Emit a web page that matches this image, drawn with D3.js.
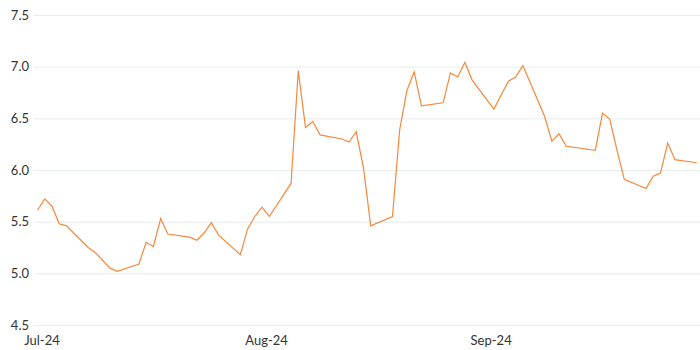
<!DOCTYPE html>
<html>
<head>
<meta charset="utf-8">
<script src="https://cdn.jsdelivr.net/npm/d3@7"></script>
<style>
    html, body { margin: 0; padding: 0; background: #fff; }
    svg { display: block; }
</style>
</head>
<body>
<svg id="chart" width="700" height="350"></svg>
<script>

// Data
const dates = [
    "2024-07-01", "2024-07-02", "2024-07-03", "2024-07-04", "2024-07-05",
    "2024-07-08", "2024-07-09", "2024-07-11", "2024-07-12",
    "2024-07-15", "2024-07-16", "2024-07-17", "2024-07-18", "2024-07-19",
    "2024-07-22", "2024-07-23", "2024-07-24", "2024-07-25", "2024-07-26",
    "2024-07-29", "2024-07-30", "2024-07-31", "2024-08-01", "2024-08-02",
    "2024-08-05", "2024-08-06", "2024-08-07", "2024-08-08", "2024-08-09",
    "2024-08-12", "2024-08-13", "2024-08-14", "2024-08-15", "2024-08-16",
    "2024-08-19", "2024-08-20", "2024-08-21", "2024-08-22", "2024-08-23",
    "2024-08-26", "2024-08-27", "2024-08-28", "2024-08-29", "2024-08-30",
    "2024-09-02", "2024-09-04", "2024-09-05", "2024-09-06",
    "2024-09-09", "2024-09-10", "2024-09-11", "2024-09-12",
    "2024-09-16", "2024-09-17", "2024-09-18", "2024-09-19", "2024-09-20",
    "2024-09-23", "2024-09-24", "2024-09-25", "2024-09-26", "2024-09-27",
    "2024-09-30"
];
const values = [
    5.61, 5.72, 5.65, 5.48, 5.46,
    5.25, 5.20, 5.05, 5.02,
    5.09, 5.30, 5.26, 5.53, 5.38,
    5.35, 5.32, 5.39, 5.49, 5.37,
    5.18, 5.43, 5.55, 5.64, 5.55,
    5.87, 6.96, 6.41, 6.47, 6.34,
    6.30, 6.27, 6.37, 6.02, 5.46,
    5.55, 6.39, 6.77, 6.95, 6.62,
    6.65, 6.94, 6.90, 7.04, 6.87,
    6.59, 6.86, 6.90, 7.01,
    6.52, 6.28, 6.35, 6.23,
    6.19, 6.55, 6.49, 6.19, 5.91,
    5.82, 5.94, 5.97, 6.26, 6.10,
    6.07
];
const yTicks = [4.5, 5.0, 5.5, 6.0, 6.5, 7.0, 7.5];
const xTicks = ["2024-07-01", "2024-08-01", "2024-09-01"];

// Configs
const configs = {
    width: 700,
    height: 350,
    margin: { top: 15, right: 3, bottom: 25, left: 34 },
    lineColor: "#f5883c",
    gridColor: "#e7ecec",
    textColor: "#333333",
    font: "Lato, 'Open Sans', sans-serif"
};

const parse = d3.timeParse("%Y-%m-%d");
const series = dates.map((d, i) => ({ date: parse(d), value: values[i] }));

const svg = d3.select("#chart");
const m = configs.margin;

// Scales
const x = d3.scaleTime()
    .domain([parse("2024-07-01"), parse("2024-09-30")])
    .range([37.5, 696.7]);
const y = d3.scaleLinear()
    .domain([4.5, 7.5])
    .range([configs.height - m.bottom, m.top]);

// Y axis + gridlines
const yAxis = svg.append("g")
    .attr("transform", `translate(${m.left},0)`)
    .call(d3.axisLeft(y)
        .tickValues(yTicks)
        .tickFormat(d3.format(".1f"))
        .tickSize(-(configs.width - m.left))
        .tickPadding(5));
yAxis.select(".domain").remove();
yAxis.selectAll(".tick line")
    .attr("stroke", configs.gridColor)
    .attr("stroke-width", 1);
yAxis.selectAll(".tick text")
    .attr("fill", configs.textColor)
    .style("font-family", configs.font)
    .style("font-size", "13px");

// X axis labels
const xAxis = svg.append("g")
    .attr("transform", `translate(0,${configs.height - m.bottom})`)
    .call(d3.axisBottom(x)
        .tickValues(xTicks.map(parse))
        .tickFormat(d3.timeFormat("%b-%y"))
        .tickSize(0)
        .tickPadding(11));
xAxis.select(".domain").remove();
xAxis.selectAll(".tick text")
    .attr("fill", configs.textColor)
    .attr("dx", 4)
    .style("font-family", configs.font)
    .style("font-size", "13px");

// Line
const line = d3.line()
    .x(d => x(d.date))
    .y(d => y(d.value));

svg.append("path")
    .datum(series)
    .attr("fill", "none")
    .attr("stroke", configs.lineColor)
    .attr("stroke-width", 1.2)
    .attr("d", line);

</script>
</body>
</html>
